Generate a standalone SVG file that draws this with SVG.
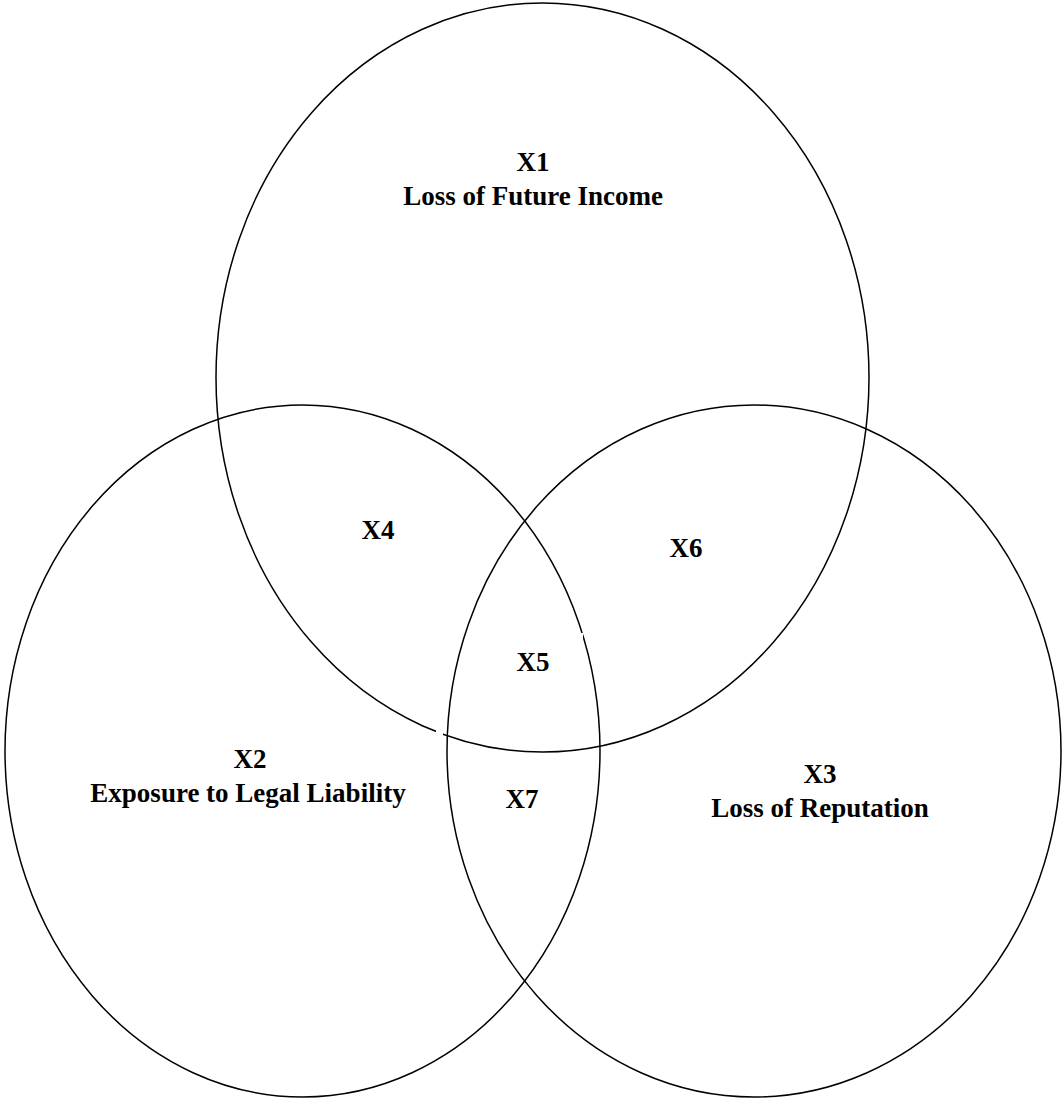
<svg xmlns="http://www.w3.org/2000/svg" width="1062" height="1099" viewBox="0 0 1062 1099">
<style>
.c{fill:none;stroke:#000;stroke-width:1.5}
.t{font-family:"Liberation Serif","Times New Roman",serif;font-weight:bold;font-size:27px;text-anchor:middle;fill:#000}
</style>
<rect width="1062" height="1099" fill="#fff"/>
<g id="set-x1"><ellipse class="c" cx="542.5" cy="377.5" rx="326.5" ry="374.5"/></g>
<g id="set-x2"><ellipse class="c" cx="302.5" cy="751" rx="297.5" ry="346"/></g>
<g id="set-x3"><ellipse class="c" cx="754" cy="751" rx="307" ry="346"/></g>
<g id="gaps" fill="#fff"><rect x="436" y="728" width="7" height="8"/><rect x="577" y="633" width="6" height="8"/></g>
<g id="labels">
<text class="t" x="533" y="171">X1</text>
<text class="t" x="533" y="205">Loss of Future Income</text>
<text class="t" x="378" y="539">X4</text>
<text class="t" x="686" y="557">X6</text>
<text class="t" x="533" y="671">X5</text>
<text class="t" x="250" y="768">X2</text>
<text class="t" x="248" y="802">Exposure to Legal Liability</text>
<text class="t" x="522" y="808">X7</text>
<text class="t" x="820" y="783">X3</text>
<text class="t" x="820" y="817">Loss of Reputation</text>
</g>
</svg>
